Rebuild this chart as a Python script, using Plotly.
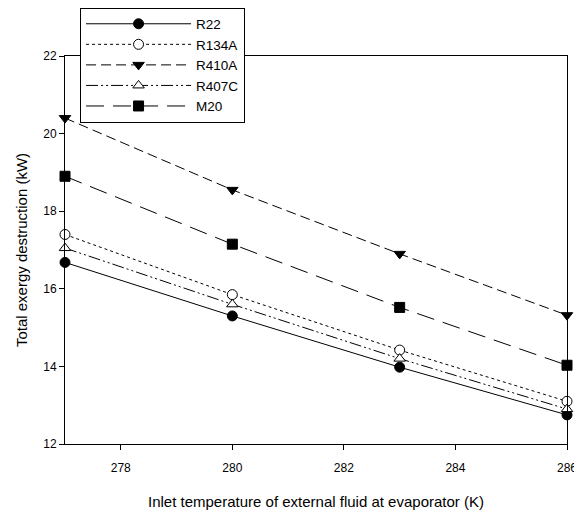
import plotly.graph_objects as go

x_temp = [277, 280, 283, 286]
r22 = [16.68, 15.30, 13.98, 12.75]
r134a = [17.40, 15.85, 14.42, 13.10]
r410a = [20.40, 18.55, 16.90, 15.32]
r407c = [17.05, 15.60, 14.20, 12.90]
m20 = [18.90, 17.15, 15.52, 14.03]

series = [
    ("R22", r22, "solid", "circle", "black"),
    ("R134A", r134a, "dot", "circle", "white"),
    ("R410A", r410a, "10px,5px", "triangle-down", "black"),
    ("R407C", r407c, "12px,3px,2px,3px,2px,3px", "triangle-up", "white"),
    ("M20", m20, "18px,9px", "square", "black"),
]

fig = go.Figure()
for name, vals, dash, sym, fill in series:
    fig.add_trace(go.Scatter(
        x=x_temp, y=vals, name=name, mode="lines+markers",
        line=dict(color="black", width=1, dash=dash),
        marker=dict(symbol=sym, size=10, color=fill,
                    line=dict(color="black", width=1)),
        cliponaxis=False,
    ))

axis_common = dict(
    showline=True, linecolor="black", linewidth=1, mirror=True,
    ticks="outside", ticklen=5, tickcolor="black", showgrid=False,
    zeroline=False, automargin=False,
    tickfont=dict(family="Arial, Liberation Sans", size=12, color="black"),
)

# page body has an 8px margin, so the figure is sized to fit the 582x515 window
fig.update_layout(
    width=574, height=507,
    margin=dict(l=57, r=15, t=48, b=71, autoexpand=False),
    plot_bgcolor="white", paper_bgcolor="white",
    font=dict(family="Arial, Liberation Sans", color="black"),
    xaxis=dict(range=[277, 286], tickvals=[278, 280, 282, 284, 286],
               ticklabelstandoff=8,
               title=dict(text="Inlet temperature of external fluid at evaporator (K)",
                          font=dict(size=15), standoff=22),
               **axis_common),
    yaxis=dict(range=[12, 22], tickvals=[12, 14, 16, 18, 20, 22],
               title=dict(text="Total exergy destruction (kW)", font=dict(size=15), standoff=11),
               **axis_common),
    legend=dict(x=0.03, y=1.125, xanchor="left", yanchor="top",
                bgcolor="white", bordercolor="black", borderwidth=1,
                font=dict(size=13.5), itemwidth=105, tracegroupgap=0),
    showlegend=True,
)

fig.write_html("out.html")
